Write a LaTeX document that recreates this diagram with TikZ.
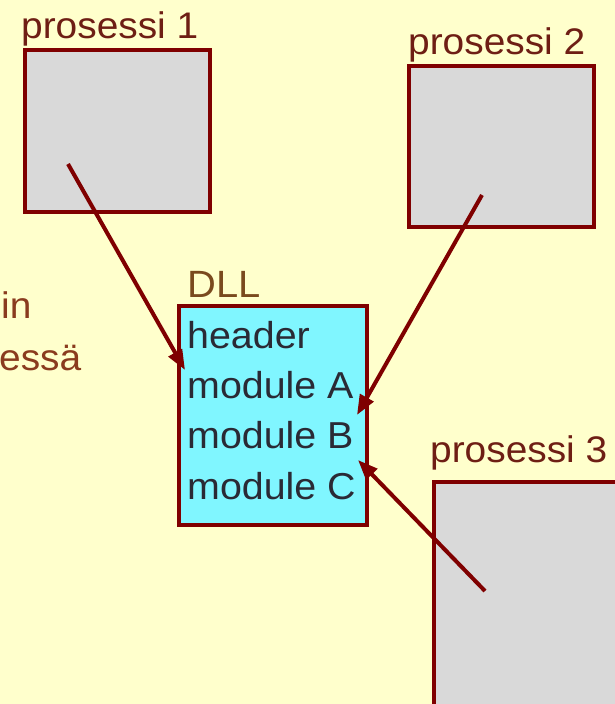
\documentclass[tikz,border=0pt]{standalone}
\usepackage{fontspec}
\setmainfont{Liberation Sans}
\usetikzlibrary{arrows.meta}
\definecolor{bg}{HTML}{FFFFCC}
\definecolor{frame}{HTML}{7F0000}
\definecolor{boxgray}{HTML}{D9D9D9}
\definecolor{dllcyan}{HTML}{80F6FF}
\definecolor{lab}{HTML}{6E1E14}
\definecolor{dlllab}{HTML}{7A4A1E}
\definecolor{sidetext}{HTML}{8A3B1E}
\definecolor{modtext}{HTML}{2A2A35}
\newcommand{\wideTxt}[1]{\scalebox{1.05}[1]{#1}}
\begin{document}
\begin{tikzpicture}[x=1pt,y=-1pt,
  procbox/.style={draw=frame, line width=3.5pt, fill=boxgray, inner sep=0pt, anchor=north west},
  dllbox/.style={draw=frame, line width=3.5pt, fill=dllcyan, inner sep=0pt, anchor=north west},
  plabel/.style={anchor=base west, inner sep=0pt, text=lab, font=\fontsize{37}{40}\selectfont},
  dlabel/.style={anchor=base west, inner sep=0pt, text=dlllab, font=\fontsize{38}{40}\selectfont},
  modlabel/.style={anchor=base west, inner sep=0pt, text=modtext, font=\fontsize{37.5}{40}\selectfont},
  sidelabel/.style={anchor=base west, inner sep=0pt, text=sidetext, font=\fontsize{37}{40}\selectfont},
  conn/.style={draw=frame, line width=4pt, -{Triangle[length=20pt,width=15pt]}}]
\useasboundingbox (0,0) rectangle (615,704);
\fill[bg] (0,0) rectangle (615,704);
\begin{scope}
\clip (0,0) rectangle (615,704);
% process boxes
\node[procbox, minimum width=185pt, minimum height=162pt] (p1) at (23,48) {};
\node[procbox, minimum width=185pt, minimum height=161pt] (p2) at (407,64) {};
\node[procbox, minimum width=260pt, minimum height=300pt] (p3) at (432,480) {};
\node[dllbox, minimum width=188pt, minimum height=219pt] (dll) at (177,304) {};
% labels
\node[plabel] (l1) at (21,38) {\wideTxt{prosessi 1}};
\node[plabel] (l2) at (408,54) {\wideTxt{prosessi 2}};
\node[plabel] (l3) at (430,462) {\wideTxt{prosessi 3}};
\node[dlabel] (ld) at (187,297) {\wideTxt{DLL}};
\node[modlabel] (mh) at (187,348) {\wideTxt{header}};
\node[modlabel] (ma) at (187,398) {\wideTxt{module A}};
\node[modlabel] (mb) at (187,448) {\wideTxt{module B}};
\node[modlabel] (mc) at (187,499) {\wideTxt{module C}};
\node[sidelabel] (s1) at (1,318) {\wideTxt{in}};
\node[sidelabel] (s2) at (-1,370) {\wideTxt{essä}};
% connector ends
\coordinate (a1) at (68,164);
\coordinate (b1) at (185,370);
\coordinate (a2) at (482,195);
\coordinate (b2) at (357,415);
\coordinate (a3) at (485,591);
\coordinate (b3) at (358,460);
\draw[conn] (a1) -- (b1);
\draw[conn] (a2) -- (b2);
\draw[conn] (a3) -- (b3);
\end{scope}
\end{tikzpicture}
\end{document}
